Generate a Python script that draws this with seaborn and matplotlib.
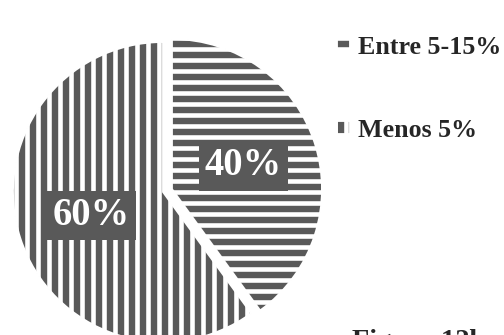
import matplotlib
matplotlib.use("Agg")
import matplotlib.pyplot as plt
import seaborn as sns

# Dados do gráfico
categorias = ["Entre 5-15%", "Menos 5%"]
valores = [40, 60]
hachuras = ["--", "||"]
legenda_titulo = "Figura 12b"

sns.set_style("white")
plt.rcParams["font.family"] = ["Liberation Serif", "DejaVu Serif"]
plt.rcParams["font.weight"] = "bold"
plt.rcParams["hatch.linewidth"] = 2.5

DPI = 132
cinza = "#595959"

fig = plt.figure(figsize=(504 / DPI, 335 / DPI), dpi=DPI)
ax = fig.add_axes([0, 0, 1, 1])

wedges, textos, autotextos = ax.pie(
    valores,
    startangle=90,
    counterclock=False,
    explode=[0.063, 0],
    colors=[cinza, cinza],
    autopct="%.0f%%",
    pctdistance=0.5,
    wedgeprops=dict(edgecolor="white", linewidth=1),
)
for w, h in zip(wedges, hachuras):
    w.set_hatch(h)

for t in autotextos:
    t.set_color("white")
    t.set_fontsize(21)
    t.set_fontweight("bold")
    t.set_bbox(dict(boxstyle="square,pad=0.16", facecolor=cinza, edgecolor="none"))

# raio de 150 px, centro em (163, 192) px
ax.set_xlim(-163 / 150, 341 / 150)
ax.set_ylim(-143 / 150, 192 / 150)
ax.set_aspect("equal")
ax.axis("off")

ax.legend(
    wedges, categorias,
    loc="upper left", bbox_to_anchor=(337 / 504, 1 - 36 / 335),
    bbox_transform=fig.transFigure,
    frameon=False, borderpad=0, borderaxespad=0,
    handlelength=0.5, handleheight=0.35, handletextpad=0.3,
    labelspacing=2.3,
    prop=dict(family="Liberation Serif", weight="bold", size=14.2),
)

fig.text(352 / 504, -0.04, legenda_titulo, fontsize=15.5, fontweight="bold",
         va="baseline", ha="left")

plt.savefig("out.png", dpi=DPI)
